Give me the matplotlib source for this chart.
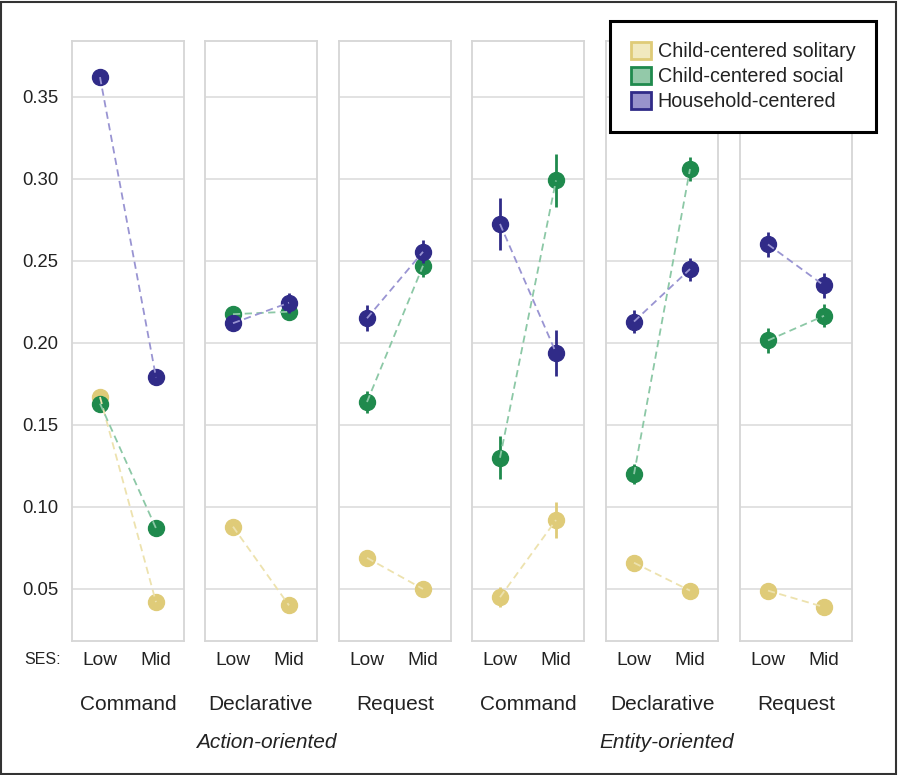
import matplotlib
matplotlib.use("Agg")
import matplotlib.pyplot as plt
from matplotlib.patches import Patch, Rectangle

plt.rcParams['font.family'] = ['Liberation Sans', 'DejaVu Sans']

# Facets: speech-act type within each goal orientation
groups = ["Action-oriented", "Entity-oriented"]
acts = ["Command", "Declarative", "Request"]
ses_levels = ["Low", "Mid"]
series_names = ["Child-centered solitary", "Child-centered social", "Household-centered"]

# Mean proportions per panel (Low, Mid), panels ordered left to right
solitary = [[0.167, 0.042], [0.088, 0.040], [0.069, 0.050],
            [0.045, 0.092], [0.066, 0.049], [0.049, 0.039]]
social = [[0.163, 0.087], [0.2175, 0.219], [0.164, 0.247],
          [0.130, 0.299], [0.120, 0.306], [0.2015, 0.2165]]
household = [[0.362, 0.179], [0.212, 0.2245], [0.215, 0.2555],
             [0.2725, 0.194], [0.213, 0.245], [0.260, 0.235]]

# Half-widths of the error bars
solitary_err = [[0.002, 0.002], [0.002, 0.002], [0.002, 0.002],
                [0.006, 0.011], [0.002, 0.002], [0.002, 0.002]]
social_err = [[0.003, 0.003], [0.004, 0.005], [0.0066, 0.007],
              [0.013, 0.016], [0.006, 0.0076], [0.0076, 0.007]]
household_err = [[0.004, 0.003], [0.004, 0.006], [0.0078, 0.007],
                 [0.016, 0.014], [0.007, 0.007], [0.0076, 0.0078]]

yticks = [0.05, 0.10, 0.15, 0.20, 0.25, 0.30, 0.35]

marker_colors = ["#DFCB78", "#1F8A4D", "#302B88"]
line_colors = ["#EDE2AE", "#8CC8A6", "#9994D2"]
legend_faces = ["#F1E9BF", "#93C9A9", "#9893CC"]

series = [solitary, social, household]
errors = [solitary_err, social_err, household_err]

W, H = 898, 775
fig = plt.figure(figsize=(W / 100, H / 100), dpi=100)

panel_left = [72, 205, 339, 472, 606, 740]
panel_w = 112
top_px, bot_px = 41, 641

axes = []
for i in range(6):
    ax = fig.add_axes([panel_left[i] / W, 1 - bot_px / H, panel_w / W, (bot_px - top_px) / H])
    axes.append(ax)
    xs = [0, 1]
    for s in range(3):
        vals = series[s][i]
        errs = errors[s][i]
        ax.errorbar(xs, vals, yerr=errs, fmt='o', color=marker_colors[s], ms=11.5,
                    elinewidth=2.0, capsize=0, zorder=3 + s)
    for s in range(3):
        ax.plot(xs, series[s][i], linestyle=(0, (4, 2.5)), color=line_colors[s], lw=1.3,
                zorder=6 + s)
    ax.set_xlim(-0.5, 1.5)
    ax.set_ylim(0.0183, 0.384)
    ax.set_yticks(yticks)
    ax.set_xticks([0, 1])
    ax.set_xticklabels(ses_levels, fontsize=13.8, color="#222222")
    ax.tick_params(axis='both', length=0)
    ax.tick_params(axis='x', pad=8)
    ax.tick_params(axis='y', pad=10, labelsize=13.3, labelcolor="#222222")
    ax.grid(axis='y', color="#DADADA", lw=1.1)
    ax.set_axisbelow(True)
    for sp in ax.spines.values():
        sp.set_color("#D6D6D6")
        sp.set_linewidth(1.3)
    if i > 0:
        ax.tick_params(axis='y', labelleft=False)

# Facet labels under each panel and group labels under each triple
for i in range(6):
    cx = (panel_left[i] + panel_w / 2) / W
    fig.text(cx, 1 - 705 / H, acts[i % 3], ha='center', va='center', fontsize=15, color="#222222")
for g in range(2):
    cx = (panel_left[3 * g + 1] + panel_w / 2 + 5) / W
    fig.text(cx, 1 - 743 / H, groups[g], ha='center', va='center', fontsize=15,
             style='italic', color="#222222")
fig.text(43 / W, 1 - 660 / H, "SES:", ha='center', va='center', fontsize=11.5, color="#222222")

handles = [Patch(facecolor=legend_faces[s], edgecolor=marker_colors[s], lw=2, label=series_names[s])
           for s in range(3)]
leg = fig.legend(handles=handles, loc='upper right', bbox_to_anchor=(876 / W, 1 - 21 / H),
                 borderaxespad=0, fontsize=14.2, frameon=True, fancybox=False, framealpha=1,
                 edgecolor='black', borderpad=1.05, labelspacing=0.3,
                 handlelength=1.0, handleheight=0.95, handletextpad=0.35)
leg.get_frame().set_linewidth(2.2)
for t in leg.get_texts():
    t.set_color("#222222")

# Outer frame around the whole figure
fig.patches.append(Rectangle((1 / W, 1 / H), (W - 3) / W, (H - 3) / H, transform=fig.transFigure,
                             fill=False, edgecolor="#333333", lw=1.5))

fig.savefig("out.png", dpi=100)
